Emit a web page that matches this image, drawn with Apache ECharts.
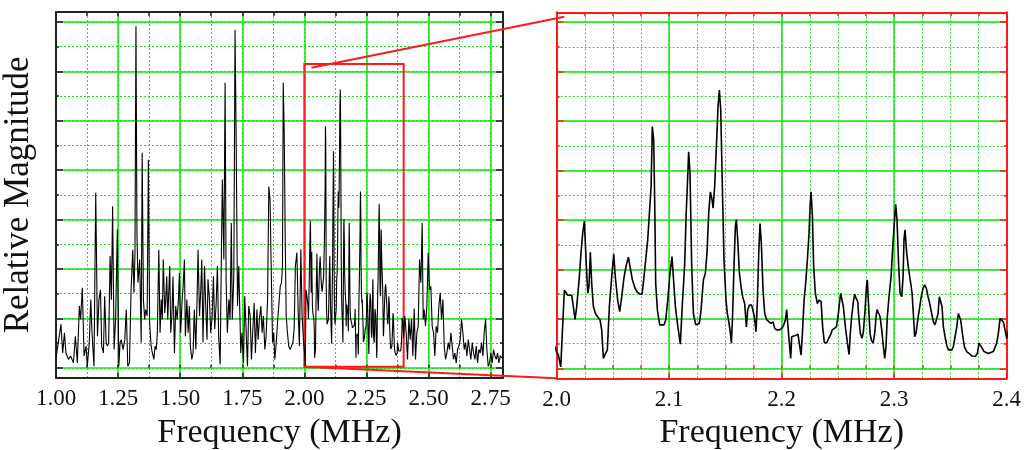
<!DOCTYPE html>
<html>
<head>
<meta charset="utf-8">
<script src="https://cdn.jsdelivr.net/npm/echarts@6/dist/echarts.min.js"></script>
<style>
html, body { margin: 0; background: #fff; }
#container { width: 1024px; height: 450px; }
</style>
</head>
<body>
<div id="container"></div>
<script>
// spectrum 1.0 - 2.0 MHz
const lowFreq = [
  1.000, 1.009, 1.020, 1.027, 1.034, 1.040, 1.050, 1.059, 1.070, 1.078,
  1.086, 1.094, 1.099, 1.106, 1.113, 1.121, 1.126, 1.134, 1.140, 1.145,
  1.153, 1.160, 1.167, 1.173, 1.179, 1.184, 1.191, 1.196, 1.202, 1.207,
  1.212, 1.218, 1.223, 1.228, 1.234, 1.240, 1.247, 1.253, 1.258, 1.263,
  1.270, 1.277, 1.283, 1.289, 1.296, 1.302, 1.309, 1.314, 1.318, 1.322,
  1.326, 1.330, 1.337, 1.343, 1.347, 1.352, 1.357, 1.361, 1.367, 1.372,
  1.377, 1.383, 1.388, 1.394, 1.399, 1.404, 1.408, 1.414, 1.419, 1.424,
  1.428, 1.432, 1.438, 1.442, 1.446, 1.450, 1.454, 1.458, 1.462, 1.467,
  1.471, 1.477, 1.482, 1.488, 1.493, 1.497, 1.502, 1.508, 1.512, 1.517,
  1.521, 1.527, 1.532, 1.537, 1.541, 1.547, 1.552, 1.557, 1.563, 1.568,
  1.572, 1.578, 1.583, 1.587, 1.592, 1.598, 1.603, 1.608, 1.612, 1.618,
  1.623, 1.629, 1.634, 1.639, 1.645, 1.650, 1.655, 1.661, 1.666, 1.670,
  1.676, 1.681, 1.685, 1.690, 1.696, 1.701, 1.706, 1.710, 1.716, 1.721,
  1.725, 1.731, 1.736, 1.740, 1.744, 1.749, 1.755, 1.760, 1.766, 1.771,
  1.776, 1.782, 1.787, 1.792, 1.798, 1.803, 1.809, 1.814, 1.819, 1.825,
  1.830, 1.835, 1.841, 1.846, 1.852, 1.857, 1.862, 1.866, 1.872, 1.877,
  1.881, 1.886, 1.892, 1.897, 1.903, 1.908, 1.912, 1.915, 1.919, 1.923,
  1.927, 1.932, 1.937, 1.943, 1.948, 1.954, 1.959, 1.964, 1.970, 1.975,
  1.980, 1.986, 1.991, 1.997
];
const lowMag = [
  0.20, 0.51, 0.88, 0.30, 0.71, 0.30, 0.17, 0.24, 0.10, 0.64,
  0.10, 1.25, 0.98, 1.62, 0.24, 0.44, 0.03, 0.51, 1.38, 0.71,
  0.03, 3.54, 0.64, 1.38, 1.58, 0.44, 0.30, 1.45, 0.51, 0.44,
  0.51, 2.26, 1.38, 3.27, 0.37, 0.98, 2.80, 0.03, 0.51, 0.57,
  0.37, 0.57, 1.18, 0.03, 0.10, 1.52, 2.39, 1.52, 2.33, 6.91,
  2.73, 1.72, 2.19, 0.51, 4.35, 1.38, 0.98, 1.18, 1.05, 4.21,
  0.91, 0.44, 0.30, 0.17, 0.44, 0.37, 0.71, 2.39, 0.71, 1.38,
  0.98, 2.19, 1.11, 1.38, 1.85, 0.98, 1.52, 2.06, 0.71, 1.11,
  1.85, 0.30, 1.25, 0.98, 1.38, 1.92, 0.71, 1.38, 1.65, 2.19,
  0.64, 1.38, 0.71, 1.25, 0.44, 0.17, 0.30, 1.18, 0.37, 1.38,
  2.39, 1.05, 1.58, 2.19, 0.51, 2.06, 1.25, 0.57, 1.79, 1.38,
  0.71, 1.05, 1.85, 0.78, 1.31, 2.06, 0.64, 0.07, 2.33, 3.81,
  2.19, 5.77, 1.79, 0.71, 1.38, 0.98, 2.93, 0.98, 1.85, 6.84,
  4.89, 1.25, 2.06, 1.18, 0.30, 0.71, 0.10, 1.45, 0.71, 0.03,
  1.25, 1.05, 0.17, 0.71, 1.31, 0.30, 1.18, 0.57, 0.98, 1.25,
  0.71, 1.05, 0.37, 0.64, 1.38, 3.67, 3.41, 2.19, 0.51, 0.71,
  0.17, 0.44, 0.91, 1.25, 1.65, 1.72, 2.06, 5.77, 4.75, 2.60,
  1.05, 0.71, 0.44, 0.37, 0.44, 0.51, 0.78, 2.06, 2.33, 1.18,
  0.44, 2.40, 1.05, 0.51
];

// spectrum 2.0 - 2.4 MHz
const zoomFreq = [
  2.0000, 2.0015, 2.0036, 2.0050, 2.0068, 2.0083, 2.0098, 2.0113, 2.0133, 2.0148,
  2.0163, 2.0178, 2.0199, 2.0216, 2.0231, 2.0246, 2.0261, 2.0276, 2.0287, 2.0299,
  2.0311, 2.0326, 2.0344, 2.0361, 2.0385, 2.0400, 2.0415, 2.0433, 2.0450, 2.0468,
  2.0489, 2.0507, 2.0521, 2.0542, 2.0560, 2.0578, 2.0599, 2.0616, 2.0637, 2.0652,
  2.0673, 2.0696, 2.0717, 2.0741, 2.0759, 2.0776, 2.0794, 2.0809, 2.0824, 2.0839,
  2.0850, 2.0862, 2.0871, 2.0880, 2.0895, 2.0916, 2.0933, 2.0954, 2.0969, 2.0987,
  2.1007, 2.1025, 2.1037, 2.1055, 2.1073, 2.1099, 2.1114, 2.1126, 2.1138, 2.1150,
  2.1161, 2.1173, 2.1185, 2.1200, 2.1215, 2.1236, 2.1250, 2.1268, 2.1283, 2.1304,
  2.1321, 2.1336, 2.1351, 2.1366, 2.1381, 2.1390, 2.1404, 2.1422, 2.1434, 2.1446,
  2.1458, 2.1470, 2.1487, 2.1505, 2.1517, 2.1532, 2.1544, 2.1553, 2.1564, 2.1576,
  2.1588, 2.1597, 2.1609, 2.1624, 2.1639, 2.1653, 2.1671, 2.1686, 2.1698, 2.1713,
  2.1733, 2.1748, 2.1757, 2.1772, 2.1784, 2.1796, 2.1807, 2.1819, 2.1834, 2.1849,
  2.1867, 2.1887, 2.1905, 2.1923, 2.1938, 2.1956, 2.1979, 2.2000, 2.2015, 2.2033,
  2.2044, 2.2056, 2.2068, 2.2080, 2.2089, 2.2104, 2.2127, 2.2145, 2.2157, 2.2172,
  2.2184, 2.2199, 2.2213, 2.2228, 2.2243, 2.2252, 2.2261, 2.2273, 2.2284, 2.2299,
  2.2317, 2.2332, 2.2350, 2.2364, 2.2379, 2.2400, 2.2418, 2.2433, 2.2450, 2.2468,
  2.2486, 2.2501, 2.2513, 2.2524, 2.2536, 2.2548, 2.2566, 2.2584, 2.2599, 2.2610,
  2.2622, 2.2637, 2.2649, 2.2661, 2.2676, 2.2687, 2.2699, 2.2714, 2.2726, 2.2741,
  2.2753, 2.2761, 2.2770, 2.2785, 2.2797, 2.2812, 2.2827, 2.2839, 2.2847, 2.2862,
  2.2874, 2.2889, 2.2904, 2.2916, 2.2927, 2.2939, 2.2954, 2.2972, 2.2987, 2.3001,
  2.3013, 2.3025, 2.3040, 2.3052, 2.3067, 2.3079, 2.3087, 2.3096, 2.3111, 2.3129,
  2.3147, 2.3159, 2.3170, 2.3182, 2.3194, 2.3209, 2.3227, 2.3241, 2.3256, 2.3271,
  2.3286, 2.3301, 2.3316, 2.3333, 2.3348, 2.3363, 2.3378, 2.3390, 2.3401, 2.3413,
  2.3425, 2.3437, 2.3452, 2.3467, 2.3481, 2.3496, 2.3511, 2.3526, 2.3541, 2.3556,
  2.3570, 2.3579, 2.3591, 2.3606, 2.3624, 2.3644, 2.3668, 2.3689, 2.3704, 2.3721,
  2.3739, 2.3754, 2.3769, 2.3784, 2.3799, 2.3816, 2.3837, 2.3858, 2.3881, 2.3896,
  2.3911, 2.3926, 2.3941, 2.3956, 2.3970, 2.3985, 2.4000
];
const zoomMag = [
  0.34, 0.27, 0.03, 0.71, 1.58, 1.62, 1.48, 1.48, 1.48, 1.25,
  0.99, 1.25, 1.79, 2.33, 2.73, 2.98, 2.19, 1.52, 1.65, 2.35,
  1.72, 1.25, 1.11, 1.05, 0.98, 0.78, 0.20, 0.30, 0.37, 1.25,
  1.85, 2.31, 1.85, 1.38, 1.15, 1.45, 1.85, 2.06, 2.25, 2.06,
  1.79, 1.62, 1.54, 1.50, 1.50, 1.85, 2.26, 2.60, 3.14, 3.67,
  4.89, 4.62, 3.41, 1.72, 1.18, 0.88, 0.84, 0.88, 0.98, 1.38,
  1.92, 2.26, 1.85, 1.25, 0.91, 0.49, 1.18, 1.65, 2.12, 3.07,
  3.67, 4.38, 3.94, 2.06, 1.11, 0.88, 0.84, 0.91, 1.18, 1.79,
  1.92, 2.33, 3.14, 3.57, 3.41, 3.24, 3.67, 4.62, 5.29, 5.63,
  5.23, 3.94, 2.19, 1.38, 1.11, 0.91, 0.71, 0.51, 1.11, 2.06,
  2.87, 3.01, 2.60, 1.92, 1.65, 1.45, 1.31, 0.84, 1.18, 1.28,
  1.28, 1.25, 1.05, 0.74, 1.38, 2.33, 2.93, 2.53, 1.58, 1.11,
  0.98, 0.94, 0.91, 0.94, 0.81, 0.78, 0.78, 0.81, 0.86, 0.98,
  1.19, 0.84, 0.51, 0.20, 0.64, 0.64, 0.67, 0.69, 0.71, 0.27,
  0.71, 1.38, 1.72, 2.19, 2.73, 3.27, 3.57, 3.07, 2.06, 1.52,
  1.31, 1.38, 1.35, 0.84, 0.52, 0.52, 0.61, 0.67, 0.78, 0.81,
  0.84, 1.05, 1.31, 1.52, 1.52, 1.25, 0.84, 0.51, 0.28, 0.71,
  1.05, 1.35, 1.50, 1.42, 1.35, 0.98, 0.71, 0.61, 0.74, 1.18,
  1.65, 1.79, 1.38, 0.71, 0.57, 0.51, 0.71, 1.05, 1.19, 1.15,
  1.05, 0.78, 0.44, 0.20, 0.44, 1.05, 1.45, 1.85, 2.46, 2.93,
  3.32, 3.00, 2.06, 1.52, 1.45, 1.85, 2.60, 2.80, 2.33, 1.99,
  1.72, 1.52, 1.11, 0.64, 0.71, 0.98, 1.25, 1.45, 1.62, 1.69,
  1.62, 1.45, 1.31, 1.11, 0.94, 0.88, 0.84, 1.11, 1.45, 1.45,
  1.25, 0.84, 0.64, 0.47, 0.38, 0.35, 0.37, 0.44, 0.64, 0.84,
  1.11, 1.15, 0.98, 0.71, 0.44, 0.34, 0.30, 0.25, 0.22, 0.24,
  0.30, 0.51, 0.47, 0.40, 0.34, 0.32, 0.30, 0.32, 0.34, 0.37,
  0.51, 0.71, 1.01, 1.05, 0.94, 0.78, 0.61
];

// spectrum 2.4 - 2.8 MHz
const highFreq = [
  2.4048, 2.4101, 2.4155, 2.4209, 2.4263, 2.4316, 2.4370, 2.4424, 2.4477, 2.4531,
  2.4585, 2.4639, 2.4692, 2.4746, 2.4786, 2.4827, 2.4880, 2.4934, 2.4988, 2.5042,
  2.5095, 2.5149, 2.5203, 2.5256, 2.5310, 2.5364, 2.5418, 2.5471, 2.5525, 2.5579,
  2.5633, 2.5686, 2.5740, 2.5794, 2.5847, 2.5901, 2.5955, 2.6008, 2.6062, 2.6116,
  2.6170, 2.6223, 2.6277, 2.6331, 2.6385, 2.6438, 2.6492, 2.6546, 2.6600, 2.6653,
  2.6707, 2.6761, 2.6814, 2.6868, 2.6922, 2.6975, 2.7029, 2.7083, 2.7137, 2.7190,
  2.7244, 2.7298, 2.7351, 2.7405, 2.7459, 2.7512, 2.7566, 2.7620, 2.7674, 2.7727,
  2.7781, 2.7835, 2.7889, 2.7956
];
const highMag = [
  1.05, 0.71, 0.17, 0.98, 0.57, 0.98, 0.24, 1.20, 0.17, 0.71,
  0.84, 2.19, 1.72, 2.93, 0.98, 1.18, 0.84, 1.25, 2.33, 1.58,
  1.65, 0.84, 0.71, 0.24, 0.84, 0.71, 1.25, 1.52, 0.98, 1.38,
  0.44, 0.17, 0.30, 0.51, 0.37, 0.71, 0.44, 0.17, 0.30, 0.10,
  0.37, 0.44, 0.57, 0.98, 0.71, 0.37, 0.51, 0.24, 0.57, 0.37,
  0.17, 0.51, 0.30, 0.17, 0.44, 0.10, 0.37, 0.30, 0.51, 0.24,
  0.71, 0.98, 0.37, 0.03, 0.10, 0.30, 0.10, 0.37, 0.24, 0.17,
  0.30, 0.10, 0.24, 0.20
];

const fullRange = [1.0, 2.8];
const zoomRange = [2.0, 2.4];
const magRange = [-0.2, 7.2];
// red box drawn over the full-range panel (MHz, magnitude)
const boxCorners = [[2.0, 0.02], [2.4, 6.15]];
// connector lines: start in the left panel, end in the right panel
const connectorFrom = [[2.0286, 6.07], [2.0, 0.02]];
const connectorTo = [[2.0068, 7.11], [2.0, -0.2]];

const freq = lowFreq.concat(zoomFreq, highFreq);
const mag = lowMag.concat(zoomMag, highMag);
const points = freq.map((f, i) => [f, mag[i]]);

const FONT = 'Liberation Serif';
const GREEN = '#14e614';
const solidGrid = { show: true, showMinLine: false, showMaxLine: false, lineStyle: { color: GREEN, width: 1.5 } };
const dotGrid = { show: true, showMinLine: false, showMaxLine: false, lineStyle: { color: GREEN, width: 1, type: [2, 2] } };
const noLabel = { show: false };
const noSplit = { show: false };
const tickFont = { fontFamily: FONT, fontSize: 23, color: '#111', margin: 10 };
const titleFont = { fontFamily: FONT, fontSize: 34, color: '#111' };

function edge(color) {
    return { show: true, onZero: false, lineStyle: { color: color, width: 2 } };
}
function ticks(color, len) {
    return { show: true, inside: true, length: len, lineStyle: { color: color, width: 1.5 } };
}

const myChart = echarts.init(document.getElementById('container'));
const option = {
    animation: false,
    backgroundColor: '#fff',
    grid: [
        { left: 56, right: 521, top: 12, bottom: 72.3, outerBoundsMode: 'none', containLabel: false },
        { left: 556.7, right: 17.3, top: 12.3, bottom: 71.7, outerBoundsMode: 'none', containLabel: false }
    ],
    xAxis: [
        // left panel
        {
            gridIndex: 0, type: 'value', min: fullRange[0], max: fullRange[1], interval: 0.25, position: 'bottom',
            axisLine: edge('#222'), axisTick: ticks('#222', 5),
            axisLabel: Object.assign({ formatter: v => v > 2.76 ? '' : v.toFixed(2) }, tickFont),
            splitLine: solidGrid,
            name: 'Frequency (MHz)', nameLocation: 'middle', nameGap: 38, nameTextStyle: titleFont
        },
        {
            gridIndex: 0, type: 'value', min: fullRange[0], max: fullRange[1], interval: 0.125, position: 'bottom',
            axisLine: { show: false }, axisTick: ticks('#222', 3), axisLabel: noLabel, splitLine: dotGrid
        },
        {
            gridIndex: 0, type: 'value', min: fullRange[0], max: fullRange[1], interval: 0.125, position: 'top',
            axisLine: edge('#222'), axisTick: ticks('#222', 4), axisLabel: noLabel, splitLine: noSplit
        },
        // right panel
        {
            gridIndex: 1, type: 'value', min: zoomRange[0], max: zoomRange[1], interval: 0.1, position: 'bottom',
            axisLine: edge('#ff1a1a'), axisTick: ticks('#ff1a1a', 5),
            axisLabel: Object.assign({ formatter: v => v.toFixed(1) }, tickFont),
            splitLine: solidGrid,
            name: 'Frequency (MHz)', nameLocation: 'middle', nameGap: 38, nameTextStyle: titleFont
        },
        {
            gridIndex: 1, type: 'value', min: zoomRange[0], max: zoomRange[1], interval: 0.025, position: 'bottom',
            axisLine: { show: false }, axisTick: ticks('#ff1a1a', 3), axisLabel: noLabel, splitLine: dotGrid
        },
        {
            gridIndex: 1, type: 'value', min: zoomRange[0], max: zoomRange[1], interval: 0.025, position: 'top',
            axisLine: edge('#ff1a1a'), axisTick: ticks('#ff1a1a', 4), axisLabel: noLabel, splitLine: noSplit
        }
    ],
    yAxis: [
        // left panel: majors every 1, minors every 0.5 (nice ticks from splitNumber)
        {
            gridIndex: 0, type: 'value', min: magRange[0], max: magRange[1], splitNumber: 7, position: 'left',
            axisLine: edge('#222'), axisTick: ticks('#222', 7), axisLabel: noLabel, splitLine: solidGrid,
            name: 'Relative Magnitude', nameLocation: 'middle', nameGap: 20,
            nameTextStyle: { fontFamily: FONT, fontSize: 35, color: '#111' }
        },
        {
            gridIndex: 0, type: 'value', min: magRange[0], max: magRange[1], splitNumber: 15, position: 'left',
            axisLine: { show: false }, axisTick: ticks('#222', 3), axisLabel: noLabel, splitLine: dotGrid
        },
        {
            gridIndex: 0, type: 'value', min: magRange[0], max: magRange[1], splitNumber: 15, position: 'right',
            axisLine: edge('#222'), axisTick: ticks('#222', 3), axisLabel: noLabel, splitLine: noSplit
        },
        {
            gridIndex: 0, type: 'value', min: magRange[0], max: magRange[1], splitNumber: 7, position: 'right',
            axisLine: { show: false }, axisTick: ticks('#222', 7), axisLabel: noLabel, splitLine: noSplit
        },
        // right panel
        {
            gridIndex: 1, type: 'value', min: magRange[0], max: magRange[1], splitNumber: 7, position: 'left',
            axisLine: edge('#ff1a1a'), axisTick: ticks('#ff1a1a', 7), axisLabel: noLabel, splitLine: solidGrid
        },
        {
            gridIndex: 1, type: 'value', min: magRange[0], max: magRange[1], splitNumber: 15, position: 'left',
            axisLine: { show: false }, axisTick: ticks('#ff1a1a', 3), axisLabel: noLabel, splitLine: dotGrid
        },
        {
            gridIndex: 1, type: 'value', min: magRange[0], max: magRange[1], splitNumber: 15, position: 'right',
            axisLine: edge('#ff1a1a'), axisTick: ticks('#ff1a1a', 3), axisLabel: noLabel, splitLine: noSplit
        },
        {
            gridIndex: 1, type: 'value', min: magRange[0], max: magRange[1], splitNumber: 7, position: 'right',
            axisLine: { show: false }, axisTick: ticks('#ff1a1a', 7), axisLabel: noLabel, splitLine: noSplit
        }
    ],
    series: [
        {
            type: 'line', xAxisIndex: 0, yAxisIndex: 0, data: points,
            symbol: 'none', z: 5,
            lineStyle: { color: '#000', width: 1.1 },
            markArea: {
                silent: true,
                itemStyle: { color: 'rgba(0,0,0,0)', borderColor: '#ff1a1a', borderWidth: 2 },
                data: [[
                    { xAxis: boxCorners[0][0], yAxis: boxCorners[0][1] },
                    { xAxis: boxCorners[1][0], yAxis: boxCorners[1][1] }
                ]]
            }
        },
        {
            type: 'line', xAxisIndex: 3, yAxisIndex: 4, data: points,
            symbol: 'none', z: 5,
            lineStyle: { color: '#000', width: 1.6 }
        }
    ]
};
myChart.setOption(option);

// zoom connectors from the box to the enlarged panel
const lines = connectorFrom.map((p, i) => {
    const a = myChart.convertToPixel({ seriesIndex: 0 }, p);
    const b = myChart.convertToPixel({ seriesIndex: 1 }, connectorTo[i]);
    return {
        type: 'line', z: 100,
        shape: { x1: a[0], y1: a[1], x2: b[0], y2: b[1] },
        style: { stroke: '#ff1a1a', lineWidth: 2 }
    };
});
myChart.setOption({ graphic: lines });

window.addEventListener('resize', () => {
    myChart.resize()
})
</script>
</body>
</html>
